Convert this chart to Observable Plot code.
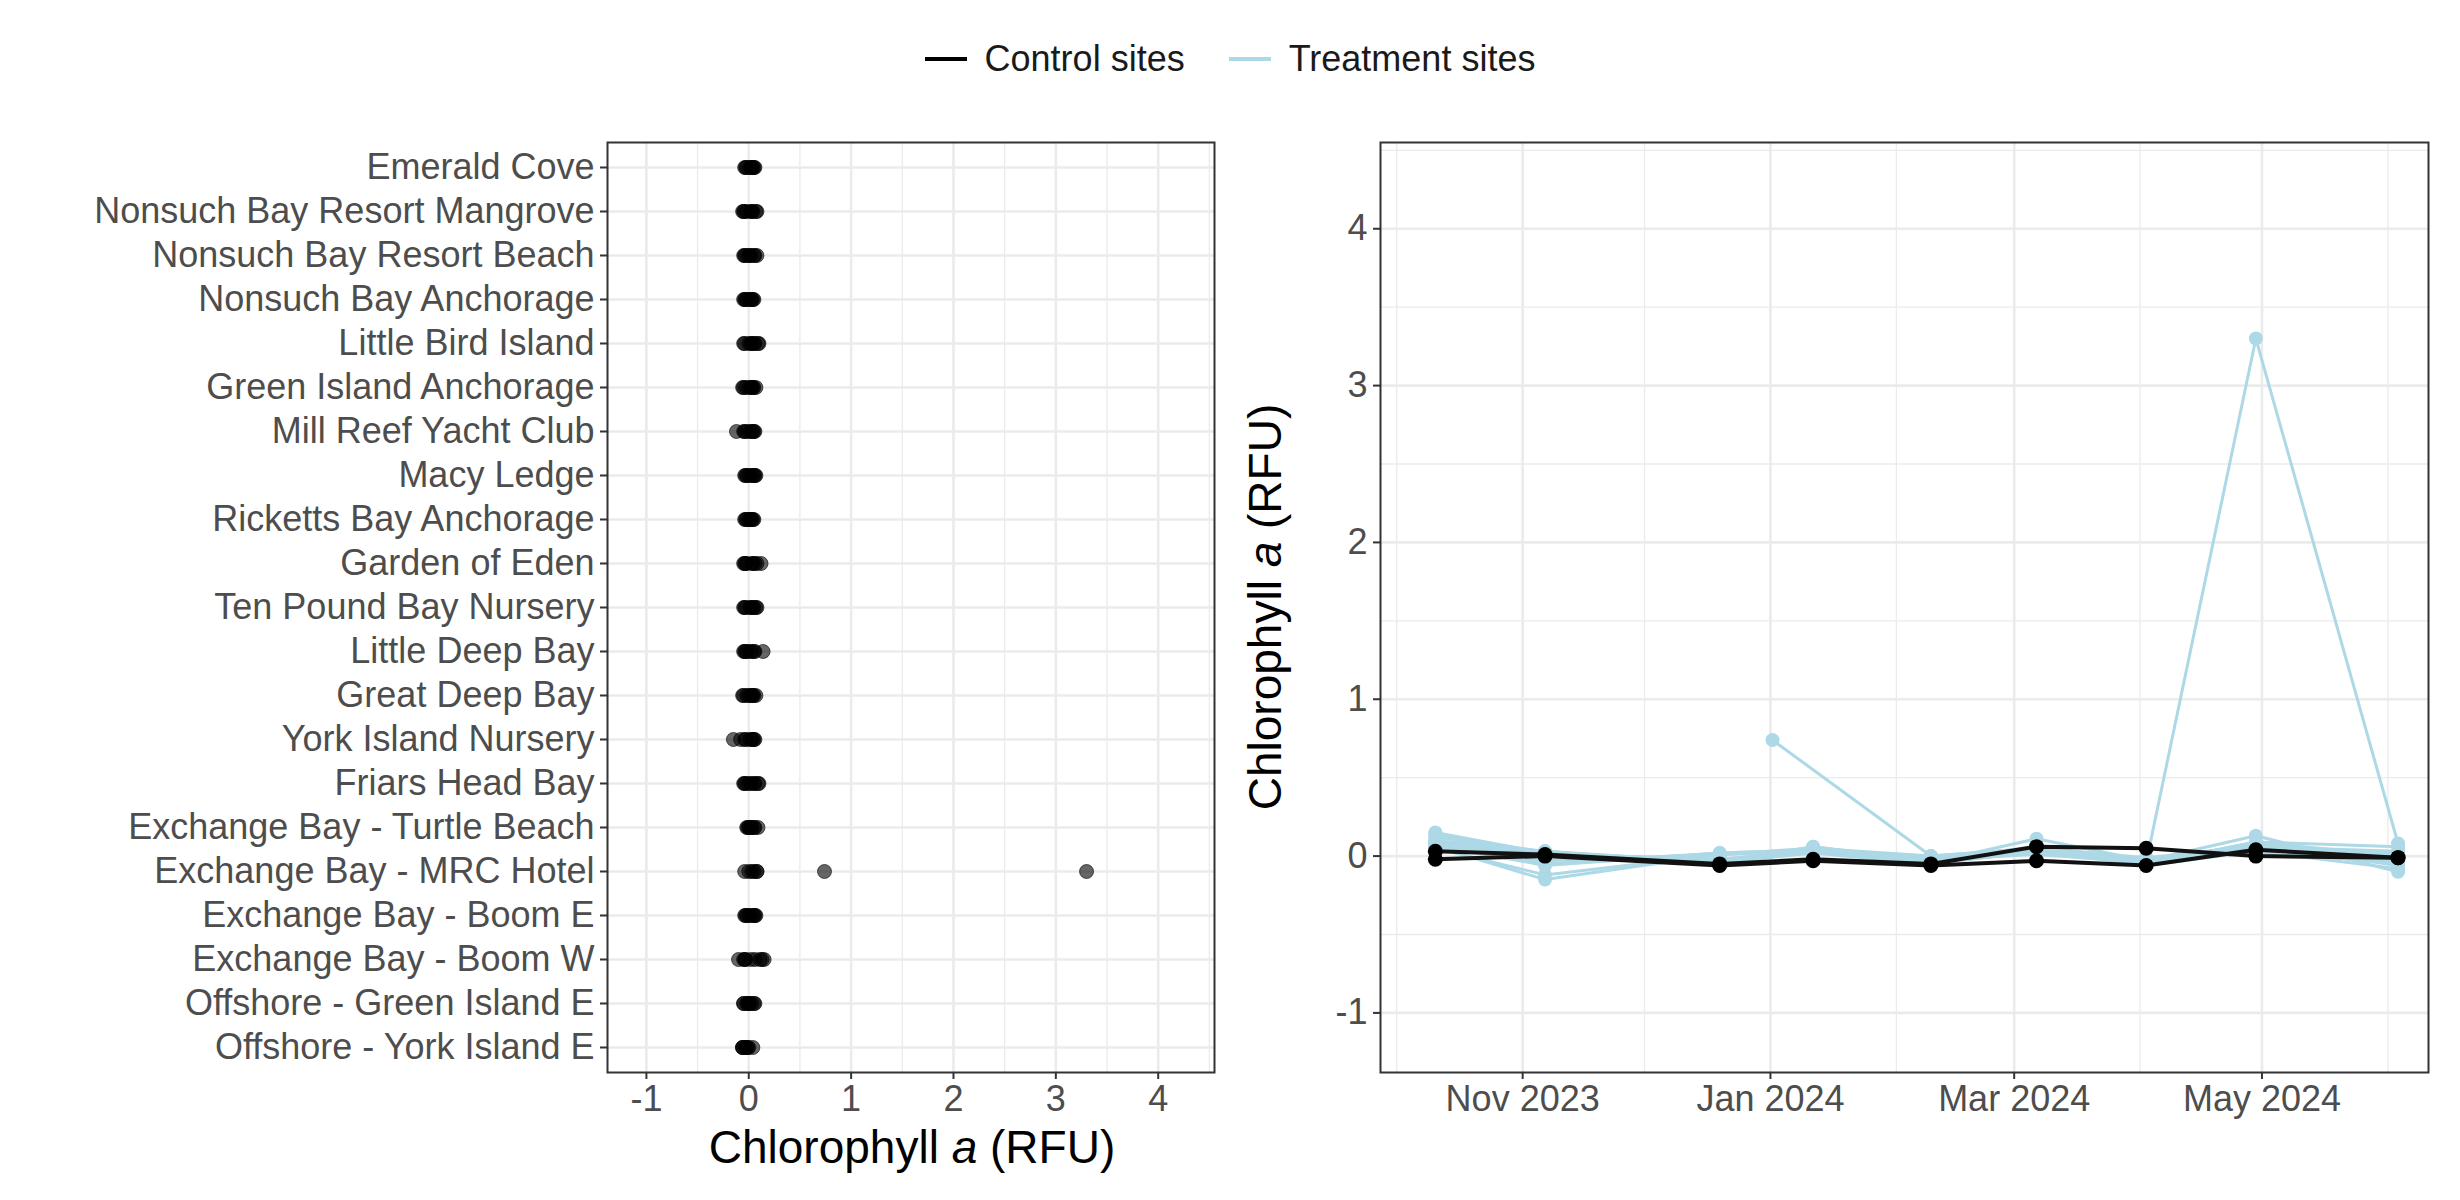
<!DOCTYPE html>
<html>
<head>
<meta charset="utf-8">
<script src="https://cdn.jsdelivr.net/npm/d3@7"></script>
<script src="https://cdn.jsdelivr.net/npm/@observablehq/plot@0.6"></script>
<style>
  body { margin: 0; background: #fff; font-family: "Liberation Sans", Arial, sans-serif; }
  #wrap { position: relative; width: 2460px; height: 1200px; }
  .abs { position: absolute; }
  .legend { top: 38px; left: 0; width: 2460px; display: flex; justify-content: center; gap: 44px; font-size: 36px; color: #1a1a1a; z-index: 5; }
  .key { display: flex; align-items: center; gap: 18px; }
  .swatch { width: 42px; height: 4px; }
  .title { font-size: 46px; color: #000; white-space: nowrap; z-index: 5; }
</style>
</head>
<body>
<div id="wrap">
  <div id="left" class="abs" style="left:0;top:0"></div>
  <div id="right" class="abs" style="left:1240px;top:0"></div>
  <div class="abs legend">
    <div class="key"><div class="swatch" style="background:#000"></div>Control sites</div>
    <div class="key"><div class="swatch" style="background:#add8e6"></div>Treatment sites</div>
  </div>
  <div class="abs title" style="left:912px;top:1120px;transform:translateX(-50%)">Chlorophyll <i>a</i> (RFU)</div>
  <div class="abs title" style="left:1265px;top:607px;transform:translate(-50%,-50%) rotate(-90deg)">Chlorophyll <i>a</i> (RFU)</div>
</div>
<script>
// sites du haut vers le bas
const sites = [
  "Emerald Cove", "Nonsuch Bay Resort Mangrove", "Nonsuch Bay Resort Beach", "Nonsuch Bay Anchorage",
  "Little Bird Island", "Green Island Anchorage", "Mill Reef Yacht Club", "Macy Ledge",
  "Ricketts Bay Anchorage", "Garden of Eden", "Ten Pound Bay Nursery", "Little Deep Bay",
  "Great Deep Bay", "York Island Nursery", "Friars Head Bay", "Exchange Bay - Turtle Beach",
  "Exchange Bay - MRC Hotel", "Exchange Bay - Boom E", "Exchange Bay - Boom W",
  "Offshore - Green Island E", "Offshore - York Island E"
];
const controlSites = ["Offshore - Green Island E", "Offshore - York Island E"];

const sampleDates = ["2023-10-10", "2023-11-06", "2023-12-19", "2024-01-11", "2024-02-09", "2024-03-06", "2024-04-02", "2024-04-29", "2024-06-03"];
const mrcDates = ["2023-10-10", "2023-11-06", "2023-12-19", "2024-01-01", "2024-02-09", "2024-03-06", "2024-04-02", "2024-04-29", "2024-06-03"];

// valeurs par site, dans l'ordre de sampleDates
const chlValues = {
  "Emerald Cove": [0.05, 0.02, -0.03, 0.04, -0.02, 0.01, -0.04, 0.06, 0.03],
  "Nonsuch Bay Resort Mangrove": [0.08, 0.03, -0.04, 0.02, -0.05, 0.04, -0.02, 0.07, -0.06],
  "Nonsuch Bay Resort Beach": [0.06, -0.03, 0.01, 0.05, -0.04, 0.02, -0.05, 0.08, 0.0],
  "Nonsuch Bay Anchorage": [0.04, 0.01, -0.05, 0.03, -0.02, 0.05, -0.03, 0.02, -0.04],
  "Little Bird Island": [0.10, 0.02, -0.04, 0.05, 0.0, 0.03, -0.05, 0.09, 0.06],
  "Green Island Anchorage": [0.07, -0.05, 0.02, 0.04, -0.03, 0.05, -0.06, 0.03, 0.0],
  "Mill Reef Yacht Club": [0.05, -0.12, 0.01, 0.03, -0.04, 0.06, -0.02, 0.04, -0.05],
  "Macy Ledge": [0.07, 0.02, -0.03, 0.04, -0.04, 0.05, -0.02, 0.06, 0.0],
  "Ricketts Bay Anchorage": [0.04, 0.01, -0.02, 0.03, -0.03, 0.02, -0.04, 0.05, 0.0],
  "Garden of Eden": [0.12, 0.03, -0.05, 0.04, -0.02, 0.06, -0.04, 0.08, -0.03],
  "Ten Pound Bay Nursery": [0.08, 0.02, -0.04, 0.05, -0.03, 0.04, -0.05, 0.07, 0.01],
  "Little Deep Bay": [0.14, 0.01, -0.05, 0.03, -0.02, 0.05, -0.04, 0.06, -0.03],
  "Great Deep Bay": [0.07, -0.06, 0.02, 0.04, -0.05, 0.03, -0.02, 0.05, 0.0],
  "York Island Nursery": [0.06, -0.15, 0.01, 0.04, -0.03, 0.05, -0.04, 0.03, -0.08],
  "Friars Head Bay": [0.10, 0.02, -0.04, 0.06, -0.03, 0.05, -0.05, 0.09, 0.0],
  "Exchange Bay - Turtle Beach": [0.09, 0.01, -0.02, 0.03, 0.0, 0.05, -0.01, 0.06, 0.02],
  "Exchange Bay - MRC Hotel": [0.08, 0.03, null, 0.74, 0.0, 0.05, -0.04, 3.3, 0.08],
  "Exchange Bay - Boom E": [0.06, 0.01, -0.03, 0.04, -0.02, 0.05, -0.04, 0.07, 0.0],
  "Exchange Bay - Boom W": [0.15, 0.02, -0.05, 0.06, -0.04, 0.11, -0.03, 0.13, -0.10],
  "Offshore - Green Island E": [0.03, 0.01, -0.05, -0.02, -0.05, 0.06, 0.05, 0.0, -0.01],
  "Offshore - York Island E": [-0.02, 0.0, -0.06, -0.03, -0.06, -0.03, -0.06, 0.04, -0.01]
};

const data = sites.flatMap(site => {
  const dates = site === "Exchange Bay - MRC Hotel" ? mrcDates : sampleDates;
  return chlValues[site].map((v, i) => ({
    site, date: new Date(dates[i] + "T12:00:00"), value: v,
    group: controlSites.includes(site) ? "control" : "treatment"
  }));
});
const points = data.filter(d => d.value !== null);
const treatment = data.filter(d => d.group === "treatment");
const control = data.filter(d => d.group === "control");

const vDomain = [-1.38, 4.55];
const gridCol = "#ebebeb";
const font = "Liberation Sans, Arial, sans-serif";
const numFmt = d => String(d); // tiret simple comme ggplot

function halfSteps(a, b) { return d3.range(a, b + 0.01, 1).map(v => v + 0.5); }

// --- panneau gauche ---
const left = Plot.plot({
  width: 1240, height: 1200,
  marginLeft: 607, marginRight: 26, marginTop: 142, marginBottom: 128,
  style: { fontFamily: font, fontSize: "36px", color: "#4d4d4d", background: "transparent" },
  x: { domain: vDomain, label: null },
  y: { domain: sites, type: "point", padding: 0.4, label: null },
  marks: [
    Plot.ruleX(halfSteps(-2, 4).filter(v => v > vDomain[0] && v < vDomain[1]), { stroke: gridCol, strokeWidth: 1.3 }),
    Plot.ruleX([-1, 0, 1, 2, 3, 4], { stroke: gridCol, strokeWidth: 2.6 }),
    Plot.ruleY(sites, { y: d => d, stroke: gridCol, strokeWidth: 2.6 }),
    Plot.dot(points, { x: "value", y: "site", r: 7, fill: "#000", fillOpacity: 0.6, stroke: "#000", strokeOpacity: 0.6, strokeWidth: 1 }),
    Plot.axisX([-1, 0, 1, 2, 3, 4], { tickSize: 7, tickPadding: 6, stroke: "#333", strokeWidth: 2, fill: "#4d4d4d", tickFormat: numFmt }),
    Plot.axisY(sites, { tickSize: 7, tickPadding: 6, stroke: "#333", strokeWidth: 2, fill: "#4d4d4d" }),
    Plot.frame({ stroke: "#333", strokeWidth: 2 })
  ]
});
document.getElementById("left").appendChild(left);

// --- panneau droit ---
const majorMonths = ["2023-11-01", "2024-01-01", "2024-03-01", "2024-05-01"].map(s => new Date(s + "T00:00:00"));
const minorMonths = ["2023-10-01", "2023-12-01", "2024-02-01", "2024-04-01", "2024-06-01"].map(s => new Date(s + "T00:00:00"));
const right = Plot.plot({
  width: 1220, height: 1200,
  marginLeft: 140, marginRight: 32, marginTop: 142, marginBottom: 128,
  style: { fontFamily: font, fontSize: "36px", color: "#4d4d4d", background: "transparent" },
  x: { type: "time", domain: [new Date("2023-09-27"), new Date("2024-06-11")], label: null },
  y: { domain: vDomain, label: null },
  marks: [
    Plot.ruleX(minorMonths, { stroke: gridCol, strokeWidth: 1.3 }),
    Plot.ruleX(majorMonths, { stroke: gridCol, strokeWidth: 2.6 }),
    Plot.ruleY(halfSteps(-2, 4).filter(v => v > vDomain[0] && v < vDomain[1]), { stroke: gridCol, strokeWidth: 1.3 }),
    Plot.ruleY([-1, 0, 1, 2, 3, 4], { stroke: gridCol, strokeWidth: 2.6 }),
    Plot.line(treatment, { x: "date", y: "value", z: "site", stroke: "#add8e6", strokeWidth: 3 }),
    Plot.dot(treatment.filter(d => d.value !== null), { x: "date", y: "value", r: 7, fill: "#add8e6" }),
    Plot.line(control, { x: "date", y: "value", z: "site", stroke: "#111", strokeWidth: 4 }),
    Plot.dot(control, { x: "date", y: "value", r: 7.5, fill: "#000" }),
    Plot.axisX(majorMonths, { tickSize: 7, tickPadding: 6, stroke: "#333", strokeWidth: 2, fill: "#4d4d4d", tickFormat: d3.timeFormat("%b %Y") }),
    Plot.axisY([-1, 0, 1, 2, 3, 4], { tickSize: 7, tickPadding: 6, stroke: "#333", strokeWidth: 2, fill: "#4d4d4d", tickFormat: numFmt }),
    Plot.frame({ stroke: "#333", strokeWidth: 2 })
  ]
});
document.getElementById("right").appendChild(right);
</script>
</body>
</html>
